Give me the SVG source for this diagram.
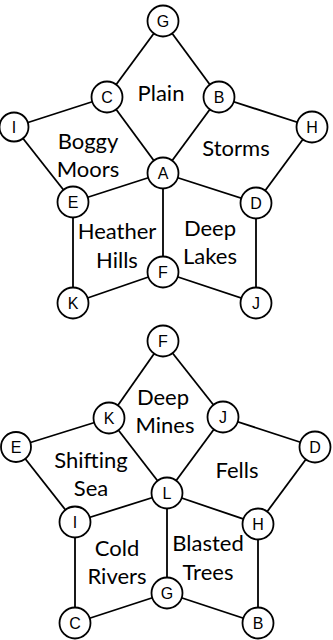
<svg xmlns="http://www.w3.org/2000/svg" width="333" height="640" viewBox="0 0 333 640">
<style>
.e line{stroke:#000;stroke-width:1.8}
.n circle{fill:#fff;stroke:#000;stroke-width:1.8}
.n text{font-family:"Liberation Sans",Arial,sans-serif;font-size:16px;text-anchor:middle;dominant-baseline:central;fill:#000}
.r{font-family:Lato,"Open Sans",sans-serif;font-size:22px;text-anchor:middle;fill:#000}
</style>
<rect width="333" height="640" fill="#fff"/>
<g id="connectors-top" class="e">
<line x1="163" y1="21" x2="107" y2="97"/>
<line x1="163" y1="21" x2="219" y2="97"/>
<line x1="107" y1="97" x2="14" y2="127"/>
<line x1="107" y1="97" x2="163" y2="173"/>
<line x1="219" y1="97" x2="163" y2="173"/>
<line x1="219" y1="97" x2="312" y2="127"/>
<line x1="14" y1="127" x2="73" y2="202"/>
<line x1="312" y1="127" x2="256" y2="203"/>
<line x1="163" y1="173" x2="73" y2="202"/>
<line x1="163" y1="173" x2="256" y2="203"/>
<line x1="163" y1="173" x2="163" y2="272"/>
<line x1="73" y1="202" x2="73" y2="303"/>
<line x1="256" y1="203" x2="256" y2="303"/>
<line x1="163" y1="272" x2="73" y2="303"/>
<line x1="163" y1="272" x2="256" y2="303"/>
</g>
<g id="connectors-bottom" class="e">
<line x1="163" y1="341" x2="109" y2="418"/>
<line x1="163" y1="341" x2="223" y2="417"/>
<line x1="109" y1="418" x2="16" y2="447"/>
<line x1="109" y1="418" x2="167" y2="493"/>
<line x1="223" y1="417" x2="167" y2="493"/>
<line x1="223" y1="417" x2="315" y2="447"/>
<line x1="16" y1="447" x2="75" y2="522"/>
<line x1="315" y1="447" x2="258" y2="524"/>
<line x1="167" y1="493" x2="75" y2="522"/>
<line x1="167" y1="493" x2="258" y2="524"/>
<line x1="167" y1="493" x2="167" y2="593"/>
<line x1="75" y1="522" x2="75" y2="623"/>
<line x1="258" y1="524" x2="258" y2="623"/>
<line x1="167" y1="593" x2="75" y2="623"/>
<line x1="167" y1="593" x2="258" y2="623"/>
</g>
<g id="t-G" class="n"><circle cx="163" cy="21" r="15.5"/><text x="163" y="21">G</text></g>
<g id="t-C" class="n"><circle cx="107" cy="97" r="15.5"/><text x="107" y="97">C</text></g>
<g id="t-B" class="n"><circle cx="219" cy="97" r="15.5"/><text x="219" y="97">B</text></g>
<g id="t-I" class="n"><circle cx="14" cy="127" r="14.5"/><text x="14" y="127">I</text></g>
<g id="t-H" class="n"><circle cx="312" cy="127" r="15.5"/><text x="312" y="127">H</text></g>
<g id="t-A" class="n"><circle cx="163" cy="173" r="15.5"/><text x="163" y="173">A</text></g>
<g id="t-E" class="n"><circle cx="73" cy="202" r="15.5"/><text x="73" y="202">E</text></g>
<g id="t-D" class="n"><circle cx="256" cy="203" r="15.5"/><text x="256" y="203">D</text></g>
<g id="t-F" class="n"><circle cx="163" cy="272" r="15.5"/><text x="163" y="272">F</text></g>
<g id="t-K" class="n"><circle cx="73" cy="303" r="15.5"/><text x="73" y="303">K</text></g>
<g id="t-J" class="n"><circle cx="256" cy="303" r="15.5"/><text x="256" y="303">J</text></g>
<g id="b-F" class="n"><circle cx="163" cy="341" r="15.5"/><text x="163" y="341">F</text></g>
<g id="b-K" class="n"><circle cx="109" cy="418" r="15.5"/><text x="109" y="418">K</text></g>
<g id="b-J" class="n"><circle cx="223" cy="417" r="15.5"/><text x="223" y="417">J</text></g>
<g id="b-E" class="n"><circle cx="16" cy="447" r="15"/><text x="16" y="447">E</text></g>
<g id="b-D" class="n"><circle cx="315" cy="447" r="15.5"/><text x="315" y="447">D</text></g>
<g id="b-L" class="n"><circle cx="167" cy="493" r="15.5"/><text x="167" y="493">L</text></g>
<g id="b-I" class="n"><circle cx="75" cy="522" r="15.5"/><text x="75" y="522">I</text></g>
<g id="b-H" class="n"><circle cx="258" cy="524" r="15.5"/><text x="258" y="524">H</text></g>
<g id="b-G" class="n"><circle cx="167" cy="593" r="15.5"/><text x="167" y="593">G</text></g>
<g id="b-C" class="n"><circle cx="75" cy="623" r="15.5"/><text x="75" y="623">C</text></g>
<g id="b-B" class="n"><circle cx="258" cy="623" r="15.5"/><text x="258" y="623">B</text></g>
<g id="regions">
<text class="r" x="161" y="101">Plain</text>
<text class="r" x="88" y="149">Boggy</text>
<text class="r" x="88" y="177">Moors</text>
<text class="r" x="236" y="156">Storms</text>
<text class="r" x="117" y="239">Heather</text>
<text class="r" x="117" y="268">Hills</text>
<text class="r" x="210" y="236">Deep</text>
<text class="r" x="210" y="264">Lakes</text>
<text class="r" x="163" y="405">Deep</text>
<text class="r" x="165" y="433">Mines</text>
<text class="r" x="91" y="468">Shifting</text>
<text class="r" x="91" y="496">Sea</text>
<text class="r" x="237" y="478">Fells</text>
<text class="r" x="117" y="556">Cold</text>
<text class="r" x="117" y="584">Rivers</text>
<text class="r" x="208" y="551">Blasted</text>
<text class="r" x="208" y="580">Trees</text>
</g>
</svg>
